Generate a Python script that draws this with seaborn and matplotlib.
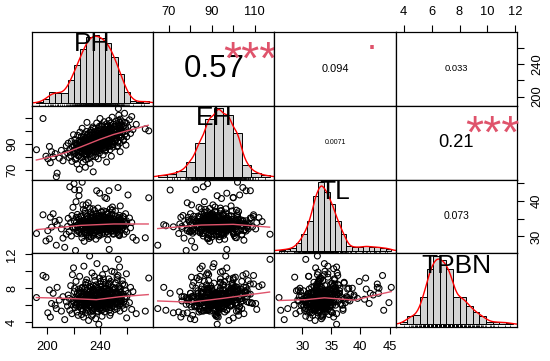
import numpy as np
import pandas as pd
import matplotlib
matplotlib.use("Agg")
import matplotlib.pyplot as plt
from matplotlib import transforms
from matplotlib.markers import MarkerStyle
import seaborn as sns

# ---------------- data ----------------
names = ["PH", "EH", "TL", "TPBN"]

ph = [192.1, 197.0, 199.2, 200.6, 201.8, 202.5, 203.4, 204.6, 206.1, 207.0,
      207.6, 209.2, 210.8, 212.0, 213.3, 214.5, 215.4, 215.9, 216.6, 217.1,
      217.8, 218.3, 218.7, 219.1, 219.5, 219.9, 220.3, 220.7, 221.0, 221.4,
      221.8, 222.1, 222.5, 222.8, 223.1, 223.4, 223.7, 224.0, 224.2, 224.5,
      224.7, 224.9, 225.2, 225.4, 225.7, 225.9, 226.2, 226.4, 226.7, 226.9,
      227.2, 227.4, 227.7, 227.9, 228.1, 228.3, 228.6, 228.8, 229.0, 229.2,
      229.4, 229.6, 229.7, 229.8, 229.9, 230.0, 230.2, 230.4, 230.6, 230.8,
      231.0, 231.2, 231.4, 231.6, 231.8, 232.0, 232.2, 232.4, 232.6, 232.8,
      233.0, 233.2, 233.4, 233.6, 233.8, 234.0, 234.1, 234.3, 234.4, 234.5,
      234.6, 234.7, 234.8, 234.9, 235.0, 235.1, 235.3, 235.5, 235.7, 235.9,
      236.1, 236.3, 236.5, 236.7, 236.9, 237.1, 237.3, 237.5, 237.7, 237.9,
      238.1, 238.3, 238.5, 238.7, 238.9, 239.0, 239.1, 239.2, 239.3, 239.4,
      239.5, 239.6, 239.7, 239.8, 239.9, 240.1, 240.3, 240.5, 240.7, 240.9,
      241.1, 241.3, 241.5, 241.7, 241.9, 242.1, 242.3, 242.5, 242.7, 242.9,
      243.1, 243.3, 243.5, 243.7, 243.9, 244.1, 244.2, 244.3, 244.4, 244.5,
      244.6, 244.7, 244.8, 244.9, 245.1, 245.3, 245.5, 245.7, 245.9, 246.1,
      246.3, 246.5, 246.7, 246.9, 247.1, 247.3, 247.5, 247.7, 247.9, 248.1,
      248.3, 248.5, 248.7, 248.9, 249.1, 249.3, 249.5, 249.7, 249.8, 249.9,
      250.2, 250.6, 251.0, 251.4, 251.8, 252.2, 252.6, 253.0, 253.3, 253.6,
      253.9, 254.1, 254.3, 254.5, 254.6, 254.7, 254.8, 254.9, 255.0, 255.0,
      255.5, 256.0, 256.5, 257.0, 257.4, 257.8, 258.2, 258.6, 259.0, 259.3,
      259.6, 259.8, 259.9, 260.8, 261.9, 262.7, 263.6, 264.5, 267.0, 273.8,
      276.4,
      222.4, 223.0, 223.9, 224.6, 225.3, 225.8, 226.5, 227.0, 227.6, 228.0,
      228.5, 228.9, 229.3, 229.7, 230.1, 230.5, 230.9, 231.3, 231.7, 232.1,
      232.5, 232.9, 233.3, 233.7, 234.2, 234.6, 235.0, 235.4, 235.8, 236.2,
      236.6, 237.0, 237.4, 237.8, 238.2, 238.6, 239.0, 239.4, 239.8, 240.2,
      240.6, 241.0, 241.4, 241.8, 242.2, 242.6, 243.0, 243.4, 243.8, 244.2,
      244.6, 245.0, 245.4, 245.8, 246.2, 246.6, 247.0, 247.4, 247.8, 248.2,
      248.6, 249.0, 249.4, 249.8, 250.4, 250.8, 251.2, 251.6, 252.0, 252.4,
      252.8, 253.2, 253.7, 254.2, 254.7, 255.3, 256.0, 256.8, 257.6, 258.4,
      220.5, 221.2, 221.9, 226.0, 227.3, 229.1, 231.5, 233.5, 235.6, 237.6,
      239.2, 240.8, 242.4, 244.0, 245.6, 247.2, 248.8, 250.6, 252.6, 254.4,
      232.7, 234.0, 236.8, 238.0, 238.8, 240.4, 241.6, 243.2, 244.8, 246.4,
      230.3, 236.4, 242.8, 248.4, 234.8, 239.6, 245.2, 251.4, 228.7, 243.6]

eh = [85.5, 109.5, 80.5, 78.5, 88.0, 75.5, 84.0, 80.0, 82.5, 64.7,
      67.5, 79.0, 85.0, 77.0, 82.0, 88.5, 83.0, 90.5, 79.5, 86.0,
      81.0, 92.0, 76.5, 87.5, 84.0, 97.0, 88.0, 82.5, 93.5, 78.0,
      86.5, 90.0, 74.5, 85.0, 96.5, 81.0, 88.5, 92.5, 70.5, 84.5,
      99.0, 87.0, 91.0, 83.5, 95.5, 79.5, 88.0, 102.0, 86.0, 90.5,
      76.0, 93.0, 85.5, 89.0, 97.5, 82.0, 91.5, 72.0, 87.5, 94.5,
      80.5, 99.5, 88.5, 84.0, 92.0, 106.5, 89.5, 95.0, 84.5, 91.0,
      78.5, 98.0, 87.0, 93.5, 82.0, 96.5, 89.0, 75.0, 92.5, 86.5,
      100.5, 90.0, 83.5, 94.0, 88.0, 97.0, 81.0, 91.5, 103.0, 85.0,
      93.0, 68.5, 89.5, 95.5, 87.0, 92.0, 99.0, 84.0, 94.5, 88.5,
      101.5, 90.5, 80.0, 96.0, 87.5, 93.0, 106.0, 91.0, 85.0, 97.5,
      89.0, 94.0, 78.5, 99.5, 92.5, 86.0, 95.0, 90.0, 103.5, 83.0,
      97.0, 88.0, 93.5, 109.5, 91.5, 96.5, 89.5, 101.0, 93.0, 86.5,
      98.5, 92.0, 104.5, 88.5, 95.5, 81.5, 99.0, 94.0, 90.5, 107.0,
      96.0, 87.0, 100.0, 93.5, 84.5, 97.5, 91.5, 102.5, 95.0, 89.0,
      99.5, 76.0, 94.5, 105.5, 98.0, 91.0, 103.0, 95.5, 88.0, 100.5,
      94.0, 108.0, 97.0, 90.0, 101.5, 85.5, 96.5, 104.0, 93.0, 99.0,
      80.5, 102.0, 95.0, 110.5, 91.5, 98.5, 87.5, 105.0, 96.0, 100.0,
      97.5, 103.5, 92.0, 99.5, 107.5, 94.5, 101.0, 88.5, 104.5, 117.2,
      112.0, 95.5, 100.5, 90.5, 106.5, 97.0, 102.5, 84.0, 99.0, 109.0,
      101.5, 95.0, 107.0, 99.0, 92.5, 104.0, 113.5, 97.5, 102.0, 89.0,
      106.0, 100.0, 95.5, 103.0, 108.5, 98.0, 111.0, 101.0, 105.0, 101.5,
      100.0,
      84.0, 89.5, 80.5, 91.0, 86.0, 93.0, 82.5, 88.5, 95.0, 84.5,
      90.0, 78.0, 92.5, 86.5, 97.0, 88.0, 83.0, 94.5, 90.0, 85.5,
      99.0, 91.5, 80.0, 95.5, 87.5, 102.0, 93.5, 86.0, 97.5, 89.0,
      83.5, 95.0, 90.5, 100.5, 87.0, 93.0, 98.0, 91.0, 85.0, 96.0,
      92.0, 103.5, 89.5, 97.0, 93.5, 86.5, 101.0, 95.0, 90.0, 99.5,
      92.5, 87.5, 104.0, 96.5, 91.0, 100.0, 94.0, 88.5, 106.0, 97.5,
      92.0, 101.5, 95.5, 89.5, 103.0, 96.0, 99.0, 93.0, 105.5, 97.0,
      100.0, 91.5, 108.0, 98.5, 102.0, 95.0, 104.5, 99.5, 93.5, 106.5,
      85.0, 90.5, 79.0, 92.0, 87.0, 81.5, 88.5, 92.5, 96.5, 84.0,
      102.5, 88.0, 98.0, 85.5, 93.5, 102.5, 90.5, 94.0, 88.0, 104.0,
      94.0, 89.0, 92.0, 96.5, 88.5, 94.5, 90.5, 97.0, 95.5, 98.5,
      91.5, 94.0, 92.0, 99.5, 90.5, 95.5, 97.5, 101.0, 87.5, 93.0]

tl = [30.8, 36.1, 28.7, 31.6, 29.3, 35.4, 32.6, 36.4, 34.2, 27.5,
      33.3, 34.6, 32.1, 29.5, 26.9, 30.6, 32.8, 35.1, 31.3, 44.0,
      33.9, 30.1, 35.9, 32.6, 38.2, 32.3, 44.9, 43.2, 32.5, 26.0,
      39.8, 34.0, 30.8, 36.2, 33.2, 31.8, 35.4, 41.5, 43.1, 31.1,
      34.3, 33.7, 33.0, 35.7, 32.0, 34.2, 29.6, 45.3, 32.8, 38.9,
      32.3, 33.5, 34.4, 28.6, 33.9, 31.4, 37.1, 32.7, 34.9, 30.9,
      38.9, 33.3, 30.4, 35.6, 32.9, 32.5, 33.7, 35.9, 31.6, 32.8,
      39.5, 32.2, 34.0, 29.9, 34.7, 32.6, 37.9, 33.5, 31.3, 35.2,
      33.1, 29.8, 34.2, 32.0, 36.0, 33.3, 30.9, 34.6, 33.9, 37.8,
      32.3, 33.0, 35.4, 30.3, 32.7, 34.9, 32.4, 33.7, 37.3, 32.9,
      31.5, 34.4, 33.3, 29.2, 35.7, 32.9, 42.9, 33.8, 31.8, 35.1,
      32.7, 38.0, 32.2, 33.6, 35.9, 30.1, 34.2, 31.7, 34.7, 33.2,
      42.2, 34.0, 31.1, 35.6, 33.7, 32.6, 35.2, 32.0, 34.1, 36.8,
      33.1, 30.6, 34.5, 33.8, 31.2, 35.7, 33.3, 37.2, 32.6, 32.1,
      35.0, 33.7, 41.0, 34.2, 35.4, 31.8, 33.0, 37.0, 34.0, 32.4,
      34.8, 32.8, 40.7, 33.5, 34.3, 32.3, 33.7, 36.2, 33.2, 30.8,
      35.5, 42.9, 26.3, 34.7, 34.0, 32.0, 37.8, 32.8, 35.2, 32.6,
      31.4, 35.9, 33.9, 32.1, 38.3, 33.5, 34.5, 31.6, 34.2, 30.8,
      35.0, 33.0, 32.0, 37.2, 33.7, 31.0, 34.4, 33.2, 43.8, 30.6,
      35.3, 33.9, 30.2, 35.9, 32.9, 31.7, 34.8, 34.0, 38.6, 32.7,
      34.6, 32.1, 33.5, 35.7, 33.0, 30.6, 34.2, 31.8, 36.4, 33.3,
      34.4, 31.3, 33.7, 41.7, 35.2, 32.4, 33.9, 29.7, 28.9, 29.6,
      40.9,
      33.1, 31.5, 34.8, 32.4, 35.6, 30.7, 33.8, 32.2, 34.5, 31.0,
      36.5, 33.4, 32.9, 34.1, 31.8, 35.0, 33.0, 30.3, 34.4, 32.5,
      33.6, 36.9, 31.6, 34.0, 32.7, 35.3, 33.2, 30.9, 34.6, 32.0,
      33.9, 36.2, 31.4, 33.5, 34.9, 32.3, 35.7, 30.5, 33.8, 32.8,
      34.3, 31.7, 36.0, 33.1, 32.1, 34.7, 33.4, 30.8, 35.4, 32.6,
      33.9, 31.3, 34.2, 36.6, 33.0, 32.2, 35.1, 33.6, 31.5, 34.6,
      32.9, 37.4, 33.3, 30.6, 34.0, 32.4, 35.8, 33.7, 31.9, 34.4,
      33.1, 32.0, 35.2, 33.5, 31.2, 34.8, 33.0, 32.5, 35.5, 33.8,
      34.3, 32.6, 35.4, 33.5, 37.6, 32.0, 29.4, 33.2, 31.1, 34.0,
      33.6, 37.0, 32.9, 34.5, 29.0, 33.4, 36.3, 32.7, 34.1, 30.4,
      34.1, 35.8, 32.8, 33.3, 31.9, 33.6, 34.9, 32.3, 33.7, 34.6,
      33.4, 33.0, 33.8, 32.8, 34.4, 32.5, 33.5, 33.9, 33.0, 34.2]

tpbn = [6.9, 9.5, 9.3, 5.1, 7.8, 4.6, 6.2, 7.4, 6.0, 5.6,
        8.1, 6.6, 5.3, 7.0, 4.3, 6.4, 5.9, 7.2, 6.8, 5.4,
        8.3, 6.1, 5.0, 9.6, 6.5, 10.4, 6.3, 8.0, 5.7, 6.9,
        8.8, 6.0, 5.2, 7.4, 6.6, 4.8, 7.9, 6.2, 7.4, 9.4,
        6.8, 5.9, 6.4, 7.7, 5.6, 6.1, 8.0, 8.1, 5.3, 7.2,
        6.5, 4.6, 10.6, 6.0, 7.5, 5.8, 6.7, 5.1, 8.4, 6.2,
        7.0, 6.6, 5.4, 9.0, 6.3, 7.8, 6.1, 7.3, 5.5, 8.6,
        6.8, 4.2, 6.4, 7.1, 5.9, 11.8, 6.6, 7.6, 5.2, 6.9,
        8.1, 6.0, 7.4, 5.7, 9.8, 6.3, 7.0, 4.9, 6.7, 7.9,
        6.2, 5.4, 8.3, 6.5, 7.2, 6.0, 7.7, 5.6, 6.8, 8.9,
        6.3, 7.1, 4.4, 6.6, 7.5, 5.8, 8.1, 10.9, 6.2, 7.3,
        5.3, 8.0, 6.5, 7.0, 3.75, 6.7, 7.8, 5.9, 6.4, 9.2,
        7.2, 6.1, 5.5, 8.5, 6.8, 7.4, 6.0, 8.2, 5.7, 6.9,
        7.6, 4.7, 6.5, 9.6, 6.3, 7.1, 5.9, 8.7, 6.6, 7.3,
        5.2, 6.8, 7.9, 6.2, 10.3, 6.9, 7.5, 5.6, 6.4, 8.0,
        6.1, 7.0, 6.7, 7.7, 6.5, 7.2, 5.8, 8.4, 6.3, 7.0,
        9.1, 8.5, 5.4, 7.8, 6.0, 7.4, 6.9, 8.8, 5.1, 7.1,
        6.4, 7.6, 10.0, 6.2, 7.3, 5.9, 6.8, 8.1, 6.5, 7.2,
        6.7, 7.9, 5.5, 8.6, 6.3, 7.4, 9.3, 6.1, 9.5, 11.4,
        8.2, 6.6, 7.7, 10.5, 6.4, 7.2, 5.3, 6.9, 8.0, 6.2,
        7.5, 6.4, 8.9, 6.0, 7.3, 5.6, 8.4, 6.8, 7.7, 6.1,
        9.7, 4.5, 7.0, 7.4, 6.3, 8.1, 5.5, 7.6, 5.0, 5.3,
        9.2,
        6.2, 7.0, 5.8, 6.6, 7.5, 6.0, 6.9, 5.5, 7.3, 6.4,
        8.0, 6.1, 7.1, 5.7, 6.8, 7.6, 6.3, 5.9, 7.0, 8.2,
        6.5, 6.0, 7.4, 6.7, 5.4, 7.8, 6.2, 6.9, 7.5, 5.8,
        6.6, 8.4, 6.1, 7.2, 6.4, 5.6, 7.7, 6.3, 7.0, 8.8,
        6.0, 6.8, 7.3, 5.5, 6.6, 7.9, 6.2, 7.1, 6.5, 8.3,
        5.9, 6.9, 7.4, 6.1, 7.0, 6.4, 8.6, 5.7, 7.5, 6.8,
        7.2, 6.3, 7.8, 6.6, 7.1, 5.8, 8.0, 6.9, 7.6, 6.2,
        9.0, 6.7, 7.3, 6.0, 7.9, 6.5, 7.2, 8.5, 6.4, 7.0,
        7.6, 6.0, 6.7, 4.9, 7.0, 8.7, 6.5, 4.7, 9.4, 5.2,
        6.9, 5.4, 9.1, 6.3, 7.7, 4.8, 6.6, 9.9, 5.6, 6.8,
        7.7, 6.4, 7.4, 6.6, 7.5, 6.8, 7.6, 6.7, 7.3, 6.5,
        7.2, 6.4, 7.1, 6.9, 6.7, 7.4, 6.2, 7.3, 6.8, 6.6]

# histogram bars: first break, bin width, bar heights
hist_start = {"PH": 190, "EH": 60, "TL": 26, "TPBN": 3.5}
hist_width = {"PH": 5, "EH": 5, "TL": 1, "TPBN": 0.5}
ph_hist = [2, 10, 28, 26, 26, 60, 98, 140, 173, 178, 170, 156, 120, 76, 28, 6, 2, 6]
eh_hist = [4, 8, 16, 43, 98, 167, 196, 176, 127, 35, 12, 4]
tl_hist = [2, 4, 8, 23, 50, 88, 163, 203, 175, 138, 88, 50, 13, 10, 10, 13, 11, 10, 8, 6]
tpbn_hist = [6, 23, 26, 78, 160, 198, 185, 160, 78, 78, 53, 35, 23, 8, 6, 6, 4]
hist_heights = {"PH": ph_hist, "EH": eh_hist, "TL": tl_hist, "TPBN": tpbn_hist}

# smoothing curves
smooth_ph_eh = ([192, 205, 215, 225, 240, 250, 260, 276], [77.6, 80.5, 83.6, 87.5, 93.6, 97.2, 100.0, 104.3])
smooth_ph_tl = ([192, 212, 225, 250, 276], [31.9, 32.6, 33.1, 33.5, 33.5])
smooth_ph_tpbn = ([192, 215, 237, 255, 276], [6.9, 6.8, 6.65, 7.0, 7.25])
smooth_eh_tl = ([64.7, 85, 100, 117], [32.2, 33.2, 33.4, 32.6])
smooth_eh_tpbn = ([64.7, 80, 95, 108, 117], [6.5, 6.35, 6.8, 7.25, 7.55])
smooth_tl_tpbn = ([26, 30.6, 33.8, 39, 42, 45.3], [6.55, 6.65, 6.87, 6.6, 7.1, 7.6])
smooths = {(1, 0): smooth_ph_eh, (2, 0): smooth_ph_tl, (3, 0): smooth_ph_tpbn,
           (2, 1): smooth_eh_tl, (3, 1): smooth_eh_tpbn, (3, 2): smooth_tl_tpbn}

# correlations and significance marks (upper panels)
corr_values = {(0, 1): 0.57, (0, 2): 0.094, (0, 3): 0.033,
               (1, 2): 0.0071, (1, 3): 0.21, (2, 3): 0.073}
corr_signif = {(0, 1): "***", (0, 2): ".", (1, 3): "***"}

# axis ticks drawn on the outer panels
ticks = {"PH": [200, 220, 240, 260], "EH": [70, 80, 90, 100, 110],
         "TL": [30, 35, 40, 45], "TPBN": [4, 6, 8, 10, 12]}
tick_labels_x = {"PH": ["200", "", "240", ""], "EH": ["70", "", "90", "", "110"],
                 "TL": ["30", "35", "40", "45"], "TPBN": ["4", "6", "8", "10", "12"]}
tick_labels_y = {"PH": ["200", "", "240", ""], "EH": ["70", "", "90", "", ""],
                 "TL": ["30", "", "40", ""], "TPBN": ["4", "", "8", "", "12"]}

# ---------------- plot ----------------
data = pd.DataFrame({"PH": ph, "EH": eh, "TL": tl, "TPBN": tpbn})

plt.rcParams["font.family"] = ["Liberation Sans", "DejaVu Sans"]
plt.rcParams["axes.linewidth"] = 0.9

SMOOTH_COL = "#DF536B"
K = 50.3  # text scaling for correlation numbers

fig, axes = plt.subplots(
    4, 4, figsize=(5.5, 3.61), dpi=100,
    gridspec_kw=dict(left=32 / 550, right=517 / 550, bottom=1 - 327 / 361,
                     top=1 - 32 / 361, wspace=0, hspace=0))
fig.patch.set_facecolor("white")


def rlim(v):
    lo, hi = float(np.min(v)), float(np.max(v))
    r = hi - lo
    return lo - 0.04 * r, hi + 0.04 * r


lims = {n: rlim(data[n]) for n in names}
open_circle = MarkerStyle("o", fillstyle="none")

for i in range(4):
    for j in range(4):
        ax = axes[i][j]
        ax.set_facecolor("white")
        if i == j:
            n = names[i]
            h = np.array(hist_heights[n], dtype=float)
            w = hist_width[n]
            edges = hist_start[n] + w * np.arange(len(h) + 1)
            centers = edges[:-1] + w / 2
            hdf = pd.DataFrame({"value": centers, "height": h})
            sns.histplot(data=hdf, x="value", weights="height",
                         bins=[float(e) for e in edges], stat="density",
                         color="#D3D3D3", edgecolor="black", linewidth=0.7,
                         alpha=1, ax=ax)
            raw = data[n]
            iqr = raw.quantile(0.75) - raw.quantile(0.25)
            bw = 0.9 * min(raw.std(), iqr / 1.34) * len(raw) ** -0.2
            m = np.sum(h * centers) / h.sum()
            sdw = np.sqrt(np.sum(h * (centers - m) ** 2) / h.sum())
            sns.kdeplot(data=hdf, x="value", weights="height",
                        bw_method=float(bw / sdw), color="red",
                        linewidth=1.0, ax=ax)
            sns.rugplot(x=raw, height=0.03, color="black", linewidth=0.5, ax=ax)
            R = edges[-1] - edges[0]
            ax.set_xlim(edges[0] - 0.04 * R, edges[-1] + 0.04 * R)
            hmax = h.max() / (h.sum() * w)
            ax.set_ylim(-0.04 * hmax, 1.04 * hmax)
            ax.text(0.5, 0.833, n, transform=ax.transAxes, ha="center",
                    va="center", fontsize=19, color="black", zorder=10)
        elif i > j:
            xn, yn = names[j], names[i]
            sns.scatterplot(x=data[xn], y=data[yn], marker=open_circle,
                            color="black", s=18, linewidth=0.8, ax=ax,
                            legend=False)
            sx, sy = smooths[(i, j)]
            sns.lineplot(x=sx, y=sy, color=SMOOTH_COL, linewidth=1.0, ax=ax,
                         estimator=None)
            ax.set_xlim(lims[xn])
            ax.set_ylim(lims[yn])
        else:
            ax.set_xlim(lims[names[j]])
            ax.set_ylim(lims[names[i]])
            r = corr_values[(i, j)]
            txt = f"{r:.2g}"
            wem = 0.556 * sum(c.isdigit() for c in txt) + 0.278 * txt.count(".")
            fs = K * (abs(r) + 0.3) / wem
            ax.text(0.5, 0.5, txt, transform=ax.transAxes, ha="center",
                    va="center", fontsize=fs, color="black")
            sig = corr_signif.get((i, j), "")
            if sig:
                fs_sig = K * 1.3 / wem
                ink = 0.575 if "*" in sig else 0.052
                tr = transforms.offset_copy(ax.transAxes, fig=fig, x=0,
                                            y=-ink * fs_sig, units="points")
                ax.text(0.8, 0.8, sig, transform=tr, ha="center", va="baseline",
                        fontsize=fs_sig, color=SMOOTH_COL, clip_on=False)
        ax.set_xlabel("")
        ax.set_ylabel("")
        ax.set_xticks([])
        ax.set_yticks([])
        for s in ax.spines.values():
            s.set_color("black")
            s.set_linewidth(0.9)

tick_kw = dict(direction="out", length=5, width=0.8, labelsize=9.3, pad=5,
               colors="black")

# bottom axes (columns 1 and 3)
for j in (0, 2):
    ax = axes[3][j]
    n = names[j]
    ax.xaxis.tick_bottom()
    ax.set_xticks(ticks[n], tick_labels_x[n])
    ax.tick_params(axis="x", **tick_kw)
# top axes (columns 2 and 4)
for j in (1, 3):
    ax = axes[0][j]
    n = names[j]
    ax.xaxis.tick_top()
    ax.set_xticks(ticks[n], tick_labels_x[n])
    ax.tick_params(axis="x", **tick_kw)
# left axes (rows 2 and 4)
for i in (1, 3):
    ax = axes[i][0]
    n = names[i]
    ax.yaxis.tick_left()
    ax.set_yticks(ticks[n], tick_labels_y[n])
    ax.tick_params(axis="y", labelrotation=90, **tick_kw)
    for lbl in ax.get_yticklabels():
        lbl.set_va("center")
# right axes (rows 1 and 3)
for i in (0, 2):
    ax = axes[i][3]
    n = names[i]
    ax.yaxis.tick_right()
    ax.set_yticks(ticks[n], tick_labels_y[n])
    ax.tick_params(axis="y", labelrotation=90, **tick_kw)
    for lbl in ax.get_yticklabels():
        lbl.set_va("center")

fig.savefig("out.png", dpi=100, facecolor="white")
